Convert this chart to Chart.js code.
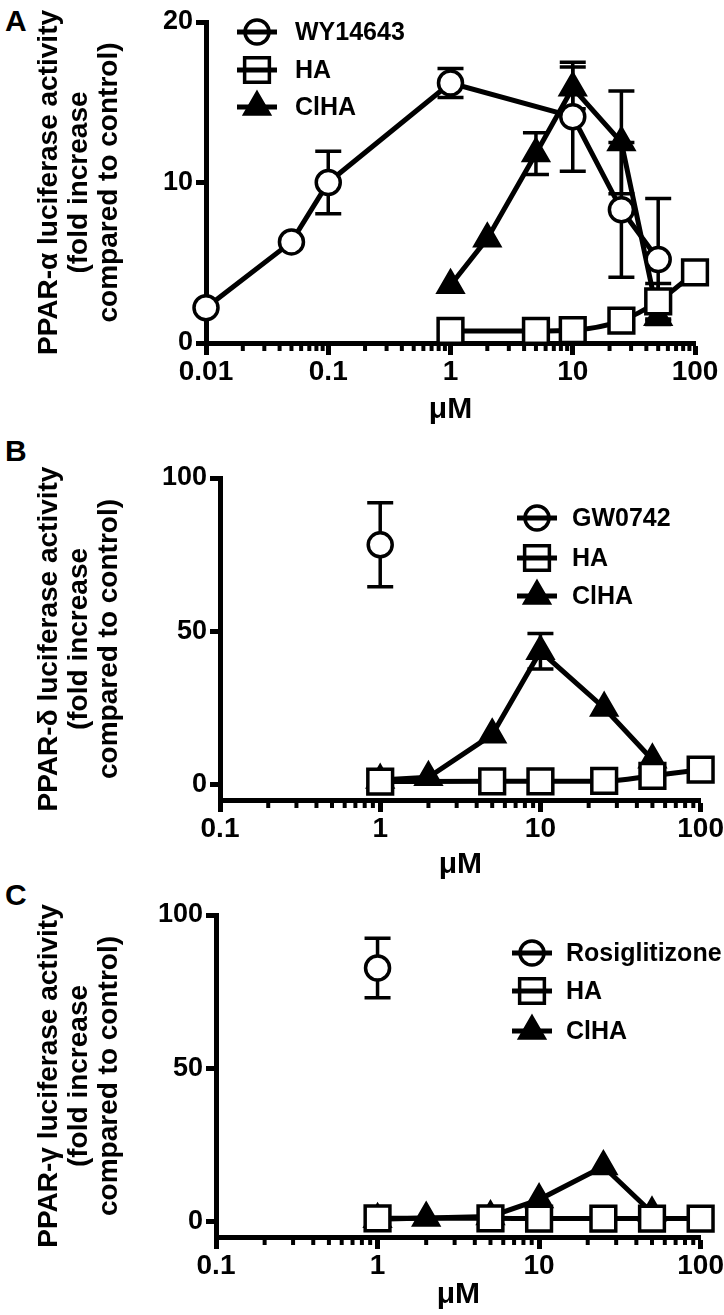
<!DOCTYPE html>
<html>
<head>
<meta charset="utf-8">
<script src="https://cdn.jsdelivr.net/npm/chart.js@4.4.0/dist/chart.umd.min.js"></script>
<style>
    body { margin: 0; background: #fff; width: 724px; height: 1315px; position: relative; overflow: hidden; font-family: 'Liberation Sans', Arial, sans-serif; }
    canvas { position: absolute; left: 0; }
    .tag { position: absolute; left: 5px; font-weight: bold; font-size: 30px; line-height: 30px; }
</style>
</head>
<body>
<div class="tag" style="top:6px">A</div>
<div class="tag" style="top:436px">B</div>
<div class="tag" style="top:880px">C</div>
<canvas id="chartA" width="724" height="428" style="top:0"></canvas>
<canvas id="chartB" width="724" height="457" style="top:428px"></canvas>
<canvas id="chartC" width="724" height="430" style="top:885px"></canvas>
<script>
// ---- Panel A: PPAR-alpha ----
const xTicksA = [0.01, 0.1, 1, 10, 100];
const xLabelsA = ['0.01', '0.1', '1', '10', '100'];
const yTicksA = [0, 10, 20];
const concA_WY = [0.01, 0.05, 0.1, 1, 10, 25, 50];
const valA_WY = [2.2, 6.3, 10.0, 16.2, 14.1, 8.3, 5.2];
const errA_WY = [0, 0, 1.95, 0.9, 3.4, 4.2, 3.8];
const concA_HA = [1, 5, 10, 25, 50, 100];
const valA_HA = [0.75, 0.75, 0.8, 1.4, 2.6, 4.4];
const errA_HA = [0, 0, 0, 0, 1.1, 0];
const concA_ClHA = [1, 2, 5, 10, 25, 50];
const valA_ClHA = [3.6, 6.5, 11.8, 15.9, 12.5, 1.6];
const errA_ClHA = [0, 0, 1.3, 1.3, 3.2, 0.45];

// ---- Panel B: PPAR-delta ----
const xTicksB = [0.1, 1, 10, 100];
const xLabelsB = ['0.1', '1', '10', '100'];
const yTicksB = [0, 50, 100];
const concB_GW = [1];
const valB_GW = [78.2];
const errB_GW = [13.7];
const concB_HA = [1, 5, 10, 25, 50, 100];
const valB_HA = [1.0, 1.1, 1.1, 1.2, 2.9, 4.9];
const errB_HA = [0, 0, 0, 0, 0, 0];
const concB_ClHA = [1, 2, 5, 10, 25, 50];
const valB_ClHA = [1.5, 2.4, 16.3, 43.5, 25.0, 8.1];
const errB_ClHA = [0, 0, 0, 5.8, 0, 0];

// ---- Panel C: PPAR-gamma ----
const xTicksC = [0.1, 1, 10, 100];
const xLabelsC = ['0.1', '1', '10', '100'];
const yTicksC = [0, 50, 100];
const concC_Rosi = [1];
const valC_Rosi = [82.7];
const errC_Rosi = [9.7];
const concC_HA = [1, 5, 10, 25, 50, 100];
const valC_HA = [1.1, 1.1, 1.0, 1.0, 1.0, 1.0];
const errC_HA = [0, 0, 0, 0, 0, 0];
const concC_ClHA = [1, 2, 5, 10, 25, 50];
const valC_ClHA = [0.8, 1.2, 1.7, 7.2, 18.0, 2.9];
const errC_ClHA = [0, 0, 0, 0, 0, 0];

const FONT = "'Liberation Sans', Arial, sans-serif";
Chart.defaults.font.family = FONT;
Chart.defaults.color = '#000';

// marker styles
const openCircle = { pointStyle: 'circle', pointRadius: 12, pointBackgroundColor: '#fff' };
const openSquare = { pointStyle: 'rect', pointRadius: 17.5, pointBackgroundColor: '#fff', cubicInterpolationMode: 'monotone' };
const filledTriangle = { pointStyle: 'triangle', pointRadius: 14, pointBackgroundColor: '#000' };

function series(label, xs, ys, errs, style) {
    return Object.assign({
        label: label,
        data: xs.map((x, i) => ({ x: x, y: ys[i] })),
        errors: errs,
        borderColor: '#000',
        borderWidth: 5,
        pointBorderColor: '#000',
        pointBorderWidth: 3.5,
        pointHoverRadius: 12,
        clip: false
    }, style);
}

// error bars (mean +/- SEM) drawn under the markers
const errorBars = {
    id: 'errorBars',
    beforeDatasetsDraw(chart) {
        const { ctx } = chart;
        const xs = chart.scales.x, ys = chart.scales.y;
        ctx.save();
        ctx.strokeStyle = '#000';
        ctx.lineWidth = 3.5;
        chart.data.datasets.forEach(ds => {
            if (!ds.errors) return;
            ds.data.forEach((p, i) => {
                const e = ds.errors[i];
                if (!e) return;
                const px = xs.getPixelForValue(p.x);
                const top = ys.getPixelForValue(p.y + e);
                const bot = ys.getPixelForValue(p.y - e);
                ctx.beginPath();
                ctx.moveTo(px, top); ctx.lineTo(px, bot);
                ctx.moveTo(px - 13, top); ctx.lineTo(px + 13, top);
                ctx.moveTo(px - 13, bot); ctx.lineTo(px + 13, bot);
                ctx.stroke();
            });
        });
        ctx.restore();
    }
};

// short minor ticks between the decades of the log axis
const minorTicks = {
    id: 'minorTicks',
    afterDraw(chart) {
        const s = chart.scales.x, ctx = chart.ctx;
        ctx.save();
        ctx.strokeStyle = '#000';
        ctx.lineWidth = 4;
        for (let d = s.min; d < s.max * 0.999; d *= 10) {
            for (let k = 2; k < 10; k++) {
                const px = s.getPixelForValue(k * d);
                ctx.beginPath();
                ctx.moveTo(px, s.top);
                ctx.lineTo(px, s.top + 8);
                ctx.stroke();
            }
        }
        ctx.restore();
    }
};

// Prism-like legend: line with the marker on it
const markerLegend = {
    id: 'markerLegend',
    afterDraw(chart, args, opts) {
        const ctx = chart.ctx;
        ctx.save();
        chart.data.datasets.forEach((ds, i) => {
            const y = opts.rows[i];
            ctx.strokeStyle = '#000';
            ctx.fillStyle = ds.pointBackgroundColor;
            ctx.lineWidth = 3.5;
            Chart.helpers.drawPoint(ctx, { pointStyle: ds.pointStyle, radius: ds.pointRadius, borderWidth: 3.5, rotation: 0 }, opts.x, y);
            ctx.lineWidth = 5;
            ctx.beginPath();
            ctx.moveTo(opts.x - 20, y);
            ctx.lineTo(opts.x + 20, y);
            ctx.stroke();
            ctx.fillStyle = '#000';
            ctx.font = 'bold 25px ' + FONT;
            ctx.textBaseline = 'middle';
            ctx.fillText(ds.label, opts.textX, y + 1);
        });
        ctx.restore();
    }
};

function makePanel(id, o) {
    return new Chart(document.getElementById(id), {
        type: 'line',
        data: { datasets: o.datasets },
        options: {
            responsive: false,
            animation: false,
            events: [],
            layout: { autoPadding: false, padding: { top: o.padTop, right: o.padRight, left: 0, bottom: 0 } },
            plugins: {
                legend: { display: false },
                tooltip: { enabled: false },
                markerLegend: o.legend
            },
            scales: {
                x: {
                    type: 'logarithmic',
                    min: o.xTicks[0],
                    max: o.xTicks[o.xTicks.length - 1],
                    afterBuildTicks: s => { s.ticks = o.xTicks.map(v => ({ value: v })); },
                    afterFit: s => { s.height = o.xHeight; },
                    ticks: {
                        autoSkip: false, maxRotation: 0, padding: 0,
                        color: '#000',
                        font: { size: 28, weight: 'bold' },
                        callback: (v, i) => o.xLabels[i]
                    },
                    grid: { drawOnChartArea: false, tickLength: 12, tickWidth: 5, tickColor: '#000' },
                    border: { color: '#000', width: 5 },
                    title: {
                        display: true, text: 'μM', color: '#000',
                        font: { size: 30, weight: 'bold' },
                        padding: { top: 0, bottom: o.xTitlePad }
                    }
                },
                y: {
                    min: o.yMin,
                    max: o.yMax,
                    afterBuildTicks: s => { s.ticks = o.yTicks.map(v => ({ value: v })); },
                    afterFit: s => { s.width = o.yWidth; },
                    ticks: { padding: 3, color: '#000', font: { size: 27, weight: 'bold' } },
                    grid: { drawOnChartArea: false, tickLength: 10, tickWidth: 5, tickColor: '#000' },
                    border: { color: '#000', width: 5 },
                    title: {
                        display: true, text: o.yTitle, color: '#000',
                        font: { size: 28, weight: 'bold', lineHeight: 1.07 },
                        padding: { top: 34, bottom: 0 }
                    }
                }
            }
        },
        plugins: [errorBars, minorTicks, markerLegend]
    });
}

makePanel('chartA', {
    datasets: [
        series('WY14643', concA_WY, valA_WY, errA_WY, openCircle),
        series('HA', concA_HA, valA_HA, errA_HA, openSquare),
        series('ClHA', concA_ClHA, valA_ClHA, errA_ClHA, filledTriangle)
    ],
    xTicks: xTicksA, xLabels: xLabelsA, yTicks: yTicksA,
    yMin: 0, yMax: 20,
    yTitle: ['PPAR-α luciferase activity', '(fold increase', 'compared to control)'],
    padTop: 22, padRight: 29, yWidth: 206, xHeight: 85, xTitlePad: 0,
    legend: { x: 257, textX: 295, rows: [32, 70, 107] }
});

makePanel('chartB', {
    datasets: [
        series('GW0742', concB_GW, valB_GW, errB_GW, Object.assign({ showLine: false }, openCircle)),
        series('HA', concB_HA, valB_HA, errB_HA, openSquare),
        series('ClHA', concB_ClHA, valB_ClHA, errB_ClHA, filledTriangle)
    ],
    xTicks: xTicksB, xLabels: xLabelsB, yTicks: yTicksB,
    yMin: -5, yMax: 100,
    yTitle: ['PPAR-δ luciferase activity', '(fold increase', 'compared to control)'],
    padTop: 50, padRight: 15, yWidth: 220, xHeight: 85, xTitlePad: 2,
    legend: { x: 537, textX: 572, rows: [90, 130, 168] }
});

makePanel('chartC', {
    datasets: [
        series('Rosiglitizone', concC_Rosi, valC_Rosi, errC_Rosi, Object.assign({ showLine: false }, openCircle)),
        series('HA', concC_HA, valC_HA, errC_HA, openSquare),
        series('ClHA', concC_ClHA, valC_ClHA, errC_ClHA, filledTriangle)
    ],
    xTicks: xTicksC, xLabels: xLabelsC, yTicks: yTicksC,
    yMin: -5, yMax: 100,
    yTitle: ['PPAR-γ luciferase activity', '(fold increase', 'compared to control)'],
    padTop: 30, padRight: 20, yWidth: 216, xHeight: 78, xTitlePad: 2,
    legend: { x: 532, textX: 566, rows: [68, 106, 146] }
});
</script>
</body>
</html>
